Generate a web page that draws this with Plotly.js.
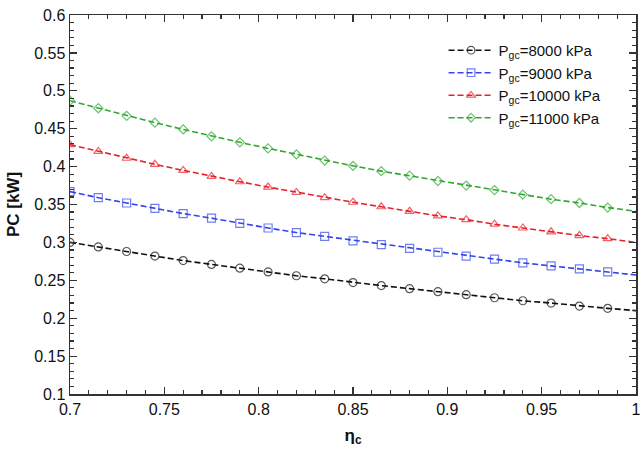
<!DOCTYPE html>
<html>
<head>
<meta charset="utf-8">
<script src="https://cdn.plot.ly/plotly-3.0.1.min.js"></script>
<style>
  body { margin: 0; background: #fff; }
  #plot { width: 640px; height: 450px; }
</style>
</head>
<body>
<div id="plot"></div>
<script>
// compressor efficiency (x axis)
const etaC = [0.7, 0.715, 0.73, 0.745, 0.76, 0.775, 0.79, 0.805, 0.82, 0.835, 0.85,
              0.865, 0.88, 0.895, 0.91, 0.925, 0.94, 0.955, 0.97, 0.985, 1.0];

// PC [kW], one list per gas cooler pressure
const pc8000  = [0.300, 0.294, 0.288, 0.282, 0.276, 0.271, 0.266, 0.261, 0.256, 0.252, 0.247,
                 0.243, 0.239, 0.235, 0.231, 0.227, 0.223, 0.220, 0.216, 0.213, 0.210];
const pc9000  = [0.367, 0.359, 0.352, 0.345, 0.338, 0.332, 0.325, 0.319, 0.313, 0.308, 0.302,
                 0.297, 0.292, 0.287, 0.282, 0.278, 0.273, 0.269, 0.265, 0.261, 0.257];
const pc10000 = [0.429, 0.420, 0.411, 0.403, 0.395, 0.387, 0.380, 0.373, 0.366, 0.359, 0.353,
                 0.347, 0.341, 0.335, 0.330, 0.324, 0.319, 0.314, 0.309, 0.305, 0.300];
const pc11000 = [0.487, 0.477, 0.467, 0.458, 0.449, 0.440, 0.432, 0.424, 0.416, 0.408, 0.401,
                 0.394, 0.388, 0.381, 0.375, 0.369, 0.363, 0.357, 0.352, 0.346, 0.341];

const seriesNames = ['P<sub>gc</sub>=8000 kPa', 'P<sub>gc</sub>=9000 kPa',
                     'P<sub>gc</sub>=10000 kPa', 'P<sub>gc</sub>=11000 kPa'];

const colors = ['#111111', '#3344ee', '#e8202a', '#30a830'];
const symbols = ['circle-open', 'square-open', 'triangle-up-open', 'diamond-open'];
const sizes = [8, 8, 8, 7];

// no marker on the last point (line runs on to 1.0)
function markerSizes(s) {
    return etaC.map((x, i) => i === etaC.length - 1 ? 0 : s);
}

const traces = [pc8000, pc9000, pc10000, pc11000].map((ys, i) => ({
    x: etaC,
    y: ys,
    name: seriesNames[i],
    type: 'scatter',
    mode: 'lines+markers',
    line: { color: colors[i], width: 1.6, dash: '6px,3px' },
    marker: { symbol: symbols[i], size: markerSizes(sizes[i]), color: colors[i],
              line: { color: colors[i], width: 1.2 } }
}));

const axisCommon = {
    showgrid: false,
    zeroline: false,
    showline: true,
    linecolor: '#333',
    linewidth: 1.5,
    mirror: 'ticks',
    ticks: 'inside',
    ticklen: 7,
    tickwidth: 1.2,
    tickcolor: '#333',
    ticklabeloverflow: 'allow',
    tickfont: { family: 'Liberation Sans, Arial', size: 16, color: '#111' }
};

const layout = {
    width: 640,
    height: 450,
    margin: { l: 70, r: 4, t: 15, b: 56 },
    paper_bgcolor: '#fff',
    plot_bgcolor: '#fff',
    showlegend: true,
    legend: {
        x: 0.66, y: 0.95, xanchor: 'left', yanchor: 'top',
        bgcolor: 'rgba(255,255,255,0)',
        itemwidth: 45,
        font: { family: 'Liberation Sans, Arial', size: 15, color: '#111' }
    },
    xaxis: Object.assign({}, axisCommon, {
        range: [0.7, 1.0],
        dtick: 0.05,
        tick0: 0.7,
        minor: { dtick: 0.01, ticks: 'inside', ticklen: 4, tickcolor: '#333', showgrid: false },
        title: { text: '<b>η<sub>c</sub></b>', standoff: 12,
                 font: { family: 'Liberation Sans, Arial', size: 17, color: '#111' } }
    }),
    yaxis: Object.assign({}, axisCommon, {
        range: [0.1, 0.6],
        dtick: 0.05,
        tick0: 0.1,
        minor: { dtick: 0.01, ticks: 'inside', ticklen: 4, tickcolor: '#333', showgrid: false },
        title: { text: '<b>PC [kW]</b>', standoff: 10,
                 font: { family: 'Liberation Sans, Arial', size: 17, color: '#111' } }
    })
};

Plotly.newPlot('plot', traces, layout, { displayModeBar: false, staticPlot: true });
</script>
</body>
</html>
